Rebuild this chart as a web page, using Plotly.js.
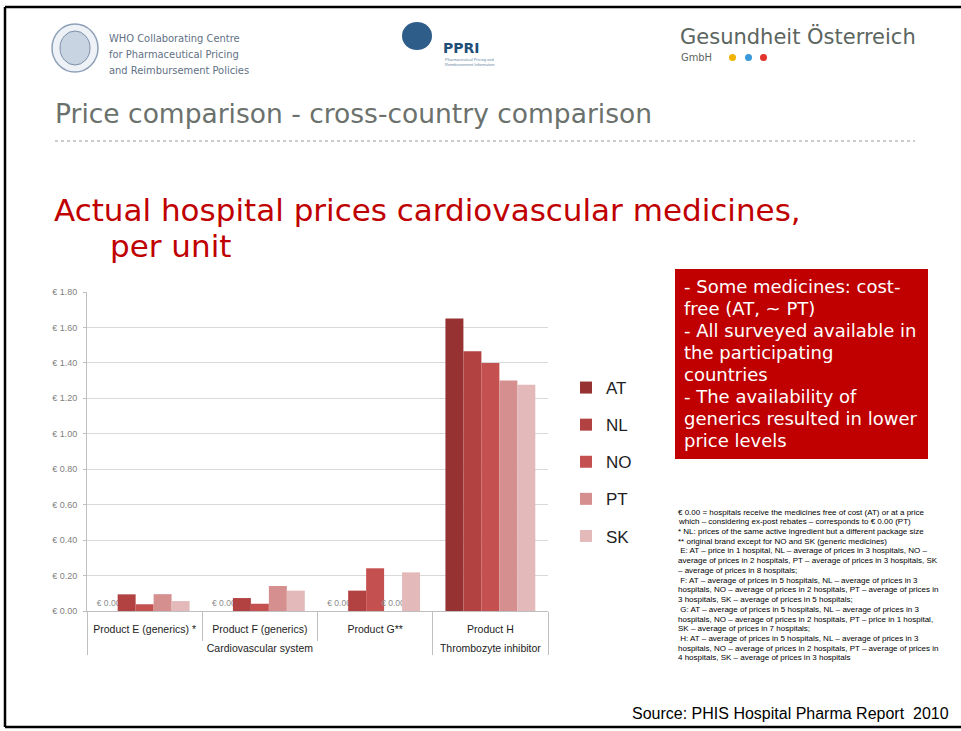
<!DOCTYPE html>
<html>
<head>
<meta charset="utf-8">
<script src="https://cdn.plot.ly/plotly-3.0.1.min.js"></script>
<style>body{margin:0;background:#fff}#plot{width:961px;height:731px}</style>
</head>
<body>
<div id="plot"></div>
<script>
// page size, used to place the slide decorations in paper coordinates
const W = 961, H = 731;
const px = x => x / W;
const py = y => 1 - y / H;

// two level x axis
const groups = ["<br>Cardiovascular system", "<br>Cardiovascular system", "<br>Cardiovascular system", "<br>Thrombozyte inhibitor"];
const products = ["Product E (generics) *", "Product F (generics)", "Product G**", "Product H"];

// price per unit (EUR)
const countries = ["AT", "NL", "NO", "PT", "SK"];
const AT = [0, 0, 0, 1.65];
const NL = [0.094, 0.073, 0.115, 1.465];
const NO = [0.038, 0.041, 0.241, 1.40];
const PT = [0.095, 0.141, 0, 1.30];
const SK = [0.056, 0.115, 0.218, 1.277];
const colors = ["#963232", "#b24242", "#c55050", "#d68f8f", "#e3b9ba"];

const series = [AT, NL, NO, PT, SK];

let traces = series.map(function (vals, i) {
  return {
    type: "bar",
    name: countries[i],
    legendgroup: countries[i],
    x: [groups, products],
    y: vals,
    marker: {color: colors[i]},
    text: vals.map(v => v === 0 ? "€ 0.00" : ""),
    textposition: "outside",
    constraintext: "none",
    textfont: {family: "Liberation Sans", size: 8.5, color: "#8c8c8c"},
    hoverinfo: "none"
  };
});

const footnote = [
  "€ 0.00 = hospitals receive the medicines free of cost (AT) or at a price",
  "which – considering ex-post rebates – corresponds to € 0.00 (PT)",
  "* NL: prices of the same active ingredient but a different package size",
  "** original brand except for NO and SK (generic medicines)",
  " E: AT – price in 1 hospital, NL – average of prices in 3 hospitals, NO –",
  "average of prices in 2 hospitals, PT – average of prices in 3 hospitals, SK",
  "– average of prices in 8 hospitals;",
  " F: AT – average of prices in 5 hospitals, NL – average of prices in 3",
  "hospitals, NO – average of prices in 2 hospitals, PT – average of prices in",
  "3 hospitals, SK – average of prices in 5 hospitals;",
  " G: AT – average of prices in 5 hospitals, NL – average of prices in 3",
  "hospitals, NO – average of prices in 2 hospitals, PT – price in 1 hospital,",
  "SK – average of prices in 7 hospitals;",
  " H: AT – average of prices in 5 hospitals, NL – average of prices in 3",
  "hospitals, NO – average of prices in 2 hospitals, PT – average of prices in",
  "4 hospitals, SK – average of prices in 3 hospitals"
];

const boxText = [
  "- Some medicines: cost-",
  "free (AT, ~ PT)",
  "- All surveyed available in",
  "the participating",
  "countries",
  "- The availability of",
  "generics resulted in lower",
  "price levels"
];

function note(x, y, text, font, extra) {
  return Object.assign({
    xref: "paper", yref: "paper", x: px(x), y: py(y),
    xanchor: "left", yanchor: "middle", showarrow: false,
    text: text, font: font, align: "left"
  }, extra || {});
}

let annotations = [
  note(107, 38, "WHO Collaborating Centre", {family: "DejaVu Sans Condensed", size: 11, color: "#5f7185"}),
  note(107, 55, "for Pharmaceutical Pricing", {family: "DejaVu Sans Condensed", size: 11, color: "#5f7185"}),
  note(107, 71, "and Reimbursement Policies", {family: "DejaVu Sans Condensed", size: 11, color: "#5f7185"}),
  note(441, 48, "<b>PPRI</b>", {family: "DejaVu Sans", size: 14, color: "#1f4e79"}),
  note(443, 62, "Pharmaceutical Pricing and<br>Reimbursement Information", {family: "Liberation Sans", size: 4, color: "#6a8aa5"}),
  note(678, 37, "Gesundheit Österreich", {family: "DejaVu Sans", size: 21, color: "#5b6560"}),
  note(679, 58, "GmbH", {family: "DejaVu Sans Condensed", size: 11, color: "#5b6560"}),
  note(53, 114, "Price comparison - cross-country comparison", {family: "DejaVu Sans", size: 26.5, color: "#6b716c"}),
  note(52, 210, "Actual hospital prices cardiovascular medicines,", {family: "DejaVu Sans", size: 31, color: "#c00000"}),
  note(108, 246, "per unit", {family: "DejaVu Sans", size: 31, color: "#c00000"}),
  note(630, 713, "Source: PHIS Hospital Pharma Report  2010", {family: "Liberation Sans", size: 16, color: "#000000"})
];

boxText.forEach(function (line, i) {
  annotations.push(note(682, 286 + i * 22.1, line, {family: "DejaVu Sans", size: 18, color: "#ffffff"}));
});

footnote.forEach(function (line, i) {
  annotations.push(note(676, 512 + i * 9.73, line, {family: "Liberation Sans", size: 8, color: "#000000"}));
});

function rect(x0, y0, x1, y1, style) {
  return Object.assign({type: "rect", xref: "paper", yref: "paper",
    x0: px(x0), x1: px(x1), y0: py(y0), y1: py(y1)}, style);
}
function circle(x0, y0, x1, y1, style) {
  return Object.assign({type: "circle", xref: "paper", yref: "paper",
    x0: px(x0), x1: px(x1), y0: py(y0), y1: py(y1)}, style);
}
function line(x0, y0, x1, y1, style) {
  return {type: "line", xref: "paper", yref: "paper",
    x0: px(x0), x1: px(x1), y0: py(y0), y1: py(y1), line: style};
}

const frame = {color: "#000", width: 2.5};

let shapes = [
  // slide frame (no right edge in the picture)
  line(5, 7, 961, 7, frame),
  line(5, 7, 5, 727, frame),
  line(5, 727, 961, 727, frame),
  // WHO emblem
  circle(52, 24, 98, 72, {line: {color: "#8da0b8", width: 1.5}, fillcolor: "#eef2f7"}),
  circle(60, 31, 90, 65, {line: {color: "#7b8fa8", width: 1}, fillcolor: "#c9d4e2"}),
  // PPRI globe
  circle(402, 22, 432, 50, {line: {width: 0}, fillcolor: "#2d5d88"}),
  // coloured dots
  circle(729, 54, 736, 61, {line: {width: 0}, fillcolor: "#f0b400"}),
  circle(745, 54, 752, 61, {line: {width: 0}, fillcolor: "#3a9ad9"}),
  circle(760, 54, 767, 61, {line: {width: 0}, fillcolor: "#e3342b"}),
  // dotted rule under the heading
  line(55, 141, 915, 141, {color: "#999", width: 1, dash: "dot"}),
  // red comment box
  rect(675, 269, 928, 459, {line: {width: 0}, fillcolor: "#c00000", layer: "below"})
];

let layout = {
  width: W,
  height: H,
  margin: {l: 0, r: 0, t: 0, b: 0},
  paper_bgcolor: "#fff",
  plot_bgcolor: "#fff",
  barmode: "group",
  bargap: 0.22,
  bargroupgap: 0,
  showlegend: true,
  legend: {
    x: px(566), y: py(370), xanchor: "left", yanchor: "top",
    font: {family: "Liberation Sans", size: 17, color: "#222"},
    traceorder: "grouped", tracegroupgap: 12,
    bgcolor: "rgba(0,0,0,0)"
  },
  xaxis: {
    type: "multicategory",
    domain: [px(87), px(548)],
    showline: true, linecolor: "#bfbfbf", linewidth: 1,
    ticks: "outside", ticklen: 29, tickcolor: "#bfbfbf",
    ticklabelstandoff: 8,
    showdividers: true, dividercolor: "#bfbfbf", dividerwidth: 1,
    tickfont: {family: "Liberation Sans", size: 10.5, color: "#222"},
    showgrid: false
  },
  yaxis: {
    domain: [py(611), py(292)],
    range: [0, 1.8],
    dtick: 0.2,
    tickprefix: "€ ",
    tickformat: ".2f",
    gridcolor: "#d9d9d9",
    showline: true, linecolor: "#bfbfbf",
    ticks: "outside", ticklen: 3, tickcolor: "#bfbfbf",
    ticklabelstandoff: 4,
    zeroline: false,
    tickfont: {family: "Liberation Sans", size: 9, color: "#7f7f7f"}
  },
  shapes: shapes,
  annotations: annotations
};

Plotly.newPlot("plot", traces, layout, {displayModeBar: false, staticPlot: true});
</script>
</body>
</html>
